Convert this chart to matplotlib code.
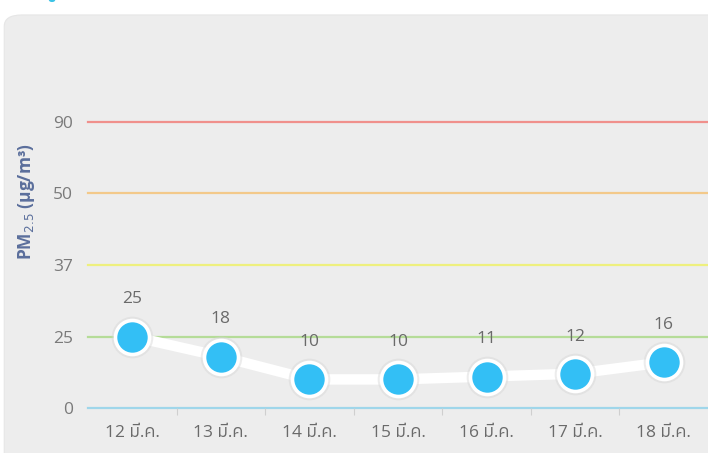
import numpy as np
import matplotlib
matplotlib.use("Agg")
import matplotlib.pyplot as plt
from matplotlib.patches import FancyBboxPatch, Circle

days = ["12 มี.ค.", "13 มี.ค.", "14 มี.ค.", "15 มี.ค.", "16 มี.ค.", "17 มี.ค.", "18 มี.ค."]
pm25 = [25, 18, 10, 10, 11, 12, 16]

# threshold lines (also the y ticks), drawn evenly spaced like the web chart
levels = [0, 25, 37, 50, 90]
level_colors = ["#9fd6ea", "#b5dc98", "#eef07e", "#f3c98a", "#f0908c"]
steps = np.arange(len(levels))


def fwd(v):
    v = np.asarray(v, dtype=float)
    out = np.interp(v, levels, steps)
    out = np.where(v < levels[0], (v - levels[0]) / 25.0, out)
    out = np.where(v > levels[-1], steps[-1] + (v - levels[-1]) / 40.0, out)
    return out


def inv(t):
    t = np.asarray(t, dtype=float)
    out = np.interp(t, steps, levels)
    out = np.where(t < 0, t * 25.0, out)
    out = np.where(t > steps[-1], levels[-1] + (t - steps[-1]) * 40.0, out)
    return out


txt_font = ["Open Sans", "IBM Plex Sans Thai", "DejaVu Sans"]

fig = plt.figure(figsize=(7.08, 4.53), dpi=100)
fig.patch.set_facecolor("white")

panel = FancyBboxPatch((0.006, -0.05), 1.2, 1.017, boxstyle="round,pad=0,rounding_size=0.025",
                       transform=fig.transFigure, facecolor="#ededed", edgecolor="#e6e6e6",
                       linewidth=0.8, zorder=0)
fig.patches.append(panel)
# bit of the header icon peeking in at the top
fig.patches.append(Circle((0.0735, 1.0), 0.0045, transform=fig.transFigure,
                          facecolor="#3cc3e6", edgecolor="none", zorder=0))

ax = fig.add_axes([0.1243, 0.0993, 0.8757, 0.6314])
ax.set_zorder(2)
ax.set_facecolor("none")
ax.set_yscale("function", functions=(fwd, inv))
ax.set_ylim(0, 90)
ax.set_xlim(-0.5, len(days) - 0.5)

for lv, c in zip(levels, level_colors):
    ax.axhline(lv, color=c, lw=1.6, zorder=1, clip_on=False)

x = np.arange(len(days))
ax.plot(x, pm25, color="white", lw=7.5, solid_capstyle="round", zorder=3, clip_on=False)
# soft shadow under the markers
ax.plot(x, pm25, "o", ms=30, color="#d6d6d6", alpha=0.45, zorder=3, clip_on=False,
        markeredgewidth=0)
ax.plot(x, pm25, "o", ms=24.5, markerfacecolor="#33bff5", markeredgecolor="white",
        markeredgewidth=2.6, zorder=4, clip_on=False)

for xi, v in zip(x, pm25):
    ax.annotate(str(v), (xi, v), xytext=(0, 21), textcoords="offset points",
                ha="center", va="bottom", fontsize=12.5, color="#6a6a6a",
                family=txt_font)

ax.set_yticks(levels)
ax.set_yticklabels([str(v) for v in levels])
ax.set_xticks(x)
ax.set_xticklabels(days)
ax.set_xticks(np.arange(len(days) - 1) + 0.5, minor=True)
ax.tick_params(axis="y", length=0, pad=11, labelsize=12.5, labelcolor="#7a7a7a")
ax.tick_params(axis="x", which="major", length=0, pad=12, labelsize=12.5, labelcolor="#6a6a6a")
ax.tick_params(axis="x", which="minor", length=5, width=0.8, color="#cfcfcf")
for lab in ax.get_xticklabels() + ax.get_yticklabels():
    lab.set_family(txt_font)
for s in ax.spines.values():
    s.set_visible(False)

fig.text(0.037, 0.556, r"PM$_{2.5}$ (μg/m³)", rotation=90, ha="center", va="center",
         fontsize=12.5, color="#5b6f9c", fontweight="bold", family=txt_font)

fig.savefig("out.png", dpi=100)
